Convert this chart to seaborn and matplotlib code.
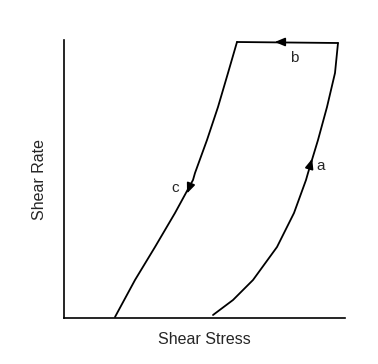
import numpy as np
import pandas as pd
import matplotlib
matplotlib.use("Agg")
import matplotlib.pyplot as plt
import seaborn as sns

# curve a: rising branch (shear stress, shear rate)
a_x = [213, 233, 253, 277, 294, 306, 308, 318, 327, 335, 338]
a_y = [3, 18, 38, 71, 105, 138, 145, 178, 211, 245, 275]
# segment b: top, going left
b_x = [338, 237]
b_y = [275, 276]
# curve c: falling branch
c_x = [237, 228, 218, 207, 195, 193, 175, 155, 135, 115]
c_y = [276, 245, 211, 178, 145, 138, 105, 71, 38, 1]

sns.set_style("white")
plt.rcParams['font.family'] = ['Liberation Sans', 'DejaVu Sans']

df = pd.DataFrame({
    "stress": a_x + b_x + c_x,
    "rate": a_y + b_y + c_y,
    "seg": ["a"] * len(a_x) + ["b"] * len(b_x) + ["c"] * len(c_x),
})

fig = plt.figure(figsize=(3.78, 3.64), dpi=100)
ax = fig.add_axes([64 / 378, 46 / 364, 281 / 378, 278 / 364])
for s, part in df.groupby("seg"):
    sns.lineplot(data=part, x="stress", y="rate", sort=False, color="black",
                 lw=1.3, ax=ax, estimator=None)

# direction arrows along the branches
arrow = dict(arrowstyle="-|>,head_length=0.6,head_width=0.25", color="black", lw=1.2)
ax.annotate("", xy=(313, 162), xytext=(310, 152), arrowprops=arrow)
ax.annotate("", xy=(272, 276), xytext=(285, 276), arrowprops=arrow)
ax.annotate("", xy=(186, 122), xytext=(190, 132), arrowprops=arrow)

ax.text(321, 152, "a", fontsize=11, ha="center", va="center")
ax.text(294, 260, "b", fontsize=11, ha="center", va="center")
ax.text(175, 130, "c", fontsize=11, ha="center", va="center")

ax.set_xlim(64, 345)
ax.set_ylim(0, 278)
ax.set_xticks([])
ax.set_yticks([])
ax.set_xlabel("Shear Stress", fontsize=11.5, labelpad=10)
ax.set_ylabel("Shear Rate", fontsize=11.5, labelpad=12)
sns.despine(ax=ax)
for sp in ["left", "bottom"]:
    ax.spines[sp].set_color("black")
    ax.spines[sp].set_linewidth(1.2)

fig.savefig("out.png", dpi=100)
